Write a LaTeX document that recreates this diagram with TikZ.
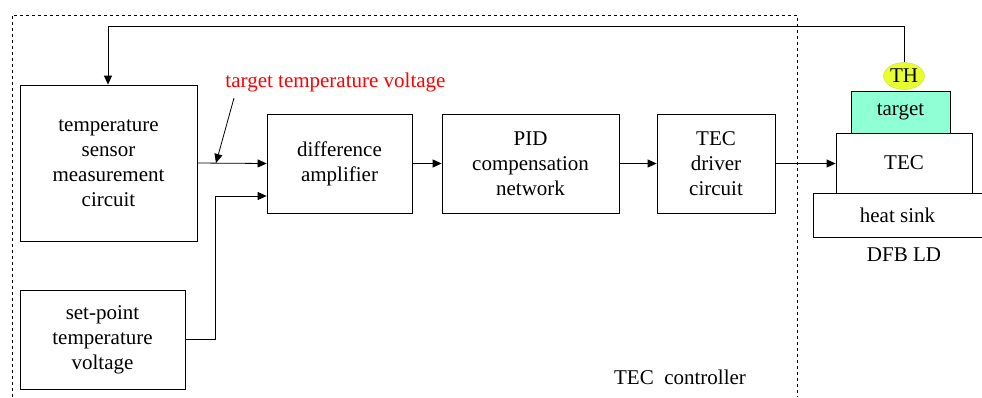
\documentclass[tikz,border=0pt]{standalone}
\usepackage{fontspec}
\setmainfont{Liberation Serif}
\newfontfamily\timesfont{Liberation Serif}
\usepackage{xcolor}
\usetikzlibrary{arrows.meta, positioning, shapes.geometric}

\definecolor{targetgreen}{RGB}{143,255,214}
\definecolor{thyellow}{RGB}{232,255,46}

\begin{document}
\begin{tikzpicture}[
  x=1pt, y=-1pt,
  font=\timesfont\fontsize{21}{25}\selectfont,
  box/.style={draw, line width=0.8pt, align=center, inner sep=0pt},
  arrow/.style={-{Triangle[length=9pt,width=8pt]}, line width=0.8pt}
]
\useasboundingbox (0,0) rectangle (982,397);

% Controller frame
\draw[dashed, line width=0.7pt] (12,397) -- (12,15) -- (797,15) -- (797,397);

% Nodes
\node[box, minimum width=177pt, minimum height=156pt] (sensor) at (108.5,163) {temperature\\sensor\\measurement\\circuit};
\node[box, minimum width=145pt, minimum height=99pt] (diff) at (339.5,163.5) {difference\\amplifier};
\node[box, minimum width=177pt, minimum height=99pt] (pid) at (530.5,163.5) {PID\\compensation\\network};
\node[box, minimum width=118pt, minimum height=99pt] (driver) at (716,163.5) {TEC\\driver\\circuit};
\node[box, minimum width=165pt, minimum height=99pt] (setpoint) at (102.5,339.5) {set-point\\temperature\\voltage};
\node[box, minimum width=136pt, minimum height=60pt] (tec) at (904,163) {TEC};
\node[box, fill=targetgreen, minimum width=99pt, minimum height=42pt] (target) at (900.5,112) {target};
\node[box, minimum width=169pt, minimum height=44pt] (sink) at (897.5,215) {heat sink};
\node[ellipse, draw=thyellow!70!gray, fill=thyellow, inner sep=0pt, minimum width=41pt, minimum height=27pt] (th) at (904,76) {TH};
\node[inner sep=0pt] (dfb) at (904,255) {DFB LD};
\node[inner sep=0pt] (ctrl) at (680,377) {TEC~~controller};
\node[inner sep=0pt, text=red] (tlabel) at (335.5,82) {target temperature voltage};

\coordinate (tap) at (216,163);
\coordinate (spin) at (215,196);

% Pointers
\draw[arrow] (sensor.east) -- (diff.west);
\draw[arrow] (setpoint.east) -- (setpoint.east -| spin) -- (spin) -- (spin -| diff.west);
\draw[arrow] (diff) -- (pid);
\draw[arrow] (pid) -- (driver);
\draw[arrow] (driver.east) -- (driver.east -| tec.west);
\draw[arrow] (th.north) -- (904,26) -- (108,26) -- (sensor.north -| 108,0);
\draw[arrow] (234,98) -- (tap);
\end{tikzpicture}
\end{document}
